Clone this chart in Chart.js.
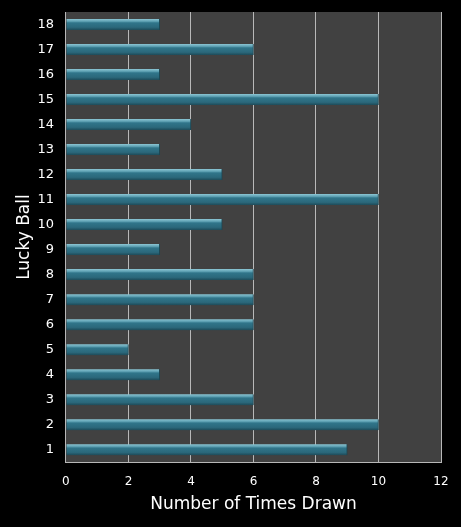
<!DOCTYPE html>
<html>
<head>
<meta charset="utf-8">
<script src="https://cdn.jsdelivr.net/npm/chart.js@4"></script>
<style>
  html, body { margin: 0; padding: 0; background: #000; }
  #wrap { width: 461px; height: 527px; }
</style>
</head>
<body>
<div id="wrap"><canvas id="chart" width="461" height="527"></canvas></div>
<script>
const balls = ['1','2','3','4','5','6','7','8','9','10','11','12','13','14','15','16','17','18'];
const timesDrawn = [9, 10, 6, 3, 2, 6, 6, 6, 3, 5, 10, 5, 3, 4, 10, 3, 6, 3];
const xTicks = [0, 2, 4, 6, 8, 10, 12];

const BAR_H = 11;

// dark plot area behind the bars
const plotBg = {
    id: 'plotBg',
    beforeDraw(chart) {
        const { ctx, chartArea: a } = chart;
        ctx.save();
        ctx.fillStyle = '#414141';
        ctx.fillRect(a.left, a.top, a.right - a.left, a.bottom - a.top);
        ctx.restore();
    }
};

function barFill(context) {
    const chart = context.chart;
    const y = chart.scales.y;
    if (!y || y.top === undefined) return '#2f7185';
    const c = y.getPixelForValue(context.dataIndex);
    const g = chart.ctx.createLinearGradient(0, c - BAR_H / 2, 0, c + BAR_H / 2);
    g.addColorStop(0, '#8cc6d4');
    g.addColorStop(0.22, '#5c9fb1');
    g.addColorStop(0.35, '#30758a');
    g.addColorStop(0.75, '#2b687b');
    g.addColorStop(1, '#1d4a58');
    return g;
}

new Chart(document.getElementById('chart'), {
    type: 'bar',
    data: {
        labels: balls,
        datasets: [{
            label: 'Number of Times Drawn',
            data: timesDrawn,
            backgroundColor: barFill,
            borderColor: '#1c4652',
            borderWidth: { right: 1 },
            barThickness: BAR_H,
        }]
    },
    options: {
        indexAxis: 'y',
        responsive: false,
        animation: false,
        layout: { padding: { top: 12, right: 20, left: 14, bottom: 12 } },
        plugins: {
            legend: { display: false },
            tooltip: { enabled: false }
        },
        scales: {
            x: {
                min: 0,
                max: 12,
                afterBuildTicks(axis) { axis.ticks = xTicks.map(v => ({ value: v })); },
                grid: { color: '#b8b8b8', lineWidth: 1, drawTicks: false },
                border: { color: '#b8b8b8', width: 1 },
                ticks: {
                    color: '#ffffff',
                    padding: 12,
                    font: { family: 'DejaVu Sans', size: 12 }
                },
                title: {
                    display: true,
                    text: 'Number of Times Drawn',
                    color: '#ffffff',
                    padding: { top: -6, bottom: 0 },
                    font: { family: 'DejaVu Sans', size: 17 }
                }
            },
            y: {
                reverse: true,
                afterFit(axis) { axis.paddingTop = 0; axis.paddingBottom = 0; },
                grid: { display: false, drawTicks: false },
                border: { color: '#b8b8b8', width: 1 },
                ticks: {
                    color: '#ffffff',
                    padding: 12,
                    font: { family: 'DejaVu Sans', size: 13 }
                },
                title: {
                    display: true,
                    text: 'Lucky Ball',
                    color: '#ffffff',
                    padding: { top: 0, bottom: -9 },
                    font: { family: 'DejaVu Sans', size: 17 }
                }
            }
        }
    },
    plugins: [plotBg]
});
</script>
</body>
</html>
